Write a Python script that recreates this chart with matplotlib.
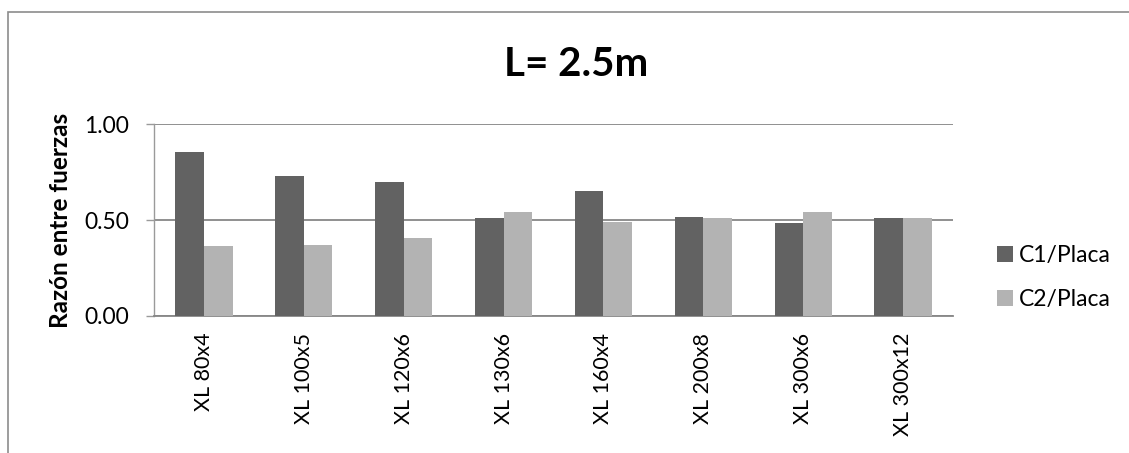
import matplotlib
matplotlib.use("Agg")
import matplotlib.pyplot as plt
from matplotlib.patches import Rectangle
import numpy as np

categories = ["XL 80x4", "XL 100x5", "XL 120x6", "XL 130x6", "XL 160x4",
              "XL 200x8", "XL 300x6", "XL 300x12"]
c1_placa = [0.853, 0.728, 0.696, 0.509, 0.653, 0.514, 0.486, 0.509]
c2_placa = [0.365, 0.370, 0.405, 0.543, 0.488, 0.510, 0.542, 0.510]
series_names = ["C1/Placa", "C2/Placa"]
title = "L= 2.5m"
ylabel = "Razón entre fuerzas"

plt.rcParams['font.family'] = ['Lato', 'DejaVu Sans']

W, H = 1129, 453
fig = plt.figure(figsize=(W / 100, H / 100), dpi=100)

# outer chart border
fig.patches.append(Rectangle((8 / W, -0.05), 1.2, 1 - 12 / H + 0.05, transform=fig.transFigure,
                             fill=False, edgecolor="#8c8c8c", linewidth=1.2))

ax = fig.add_axes([154 / W, 1 - 316 / H, (953 - 154) / W, (316 - 124) / H])

x = np.arange(len(categories))
bw = 0.286
dark = "#626262"
light = "#b3b3b3"
ax.bar(x - bw / 2, c1_placa, width=bw, color=dark, label=series_names[0], zorder=3)
ax.bar(x + bw / 2, c2_placa, width=bw, color=light, label=series_names[1], zorder=3)

ax.set_xlim(-0.5, len(categories) - 0.5)
ax.set_ylim(0, 1.0)
ax.set_yticks([0.0, 0.5, 1.0])
ax.set_yticklabels([f"{v:.2f}" for v in [0.0, 0.5, 1.0]], fontsize=16.5)
ax.yaxis.grid(True, color="#878787", linewidth=1.3, zorder=0)
ax.set_axisbelow(True)
for s in ["top", "right"]:
    ax.spines[s].set_visible(False)
ax.spines["left"].set_color("#9a9a9a")
ax.spines["left"].set_linewidth(1.0)
ax.spines["bottom"].set_color("#878787")
ax.spines["bottom"].set_linewidth(1.3)
ax.tick_params(axis="y", direction="out", length=6, color="#9a9a9a", width=1.0, pad=12)
ax.tick_params(axis="x", length=0, pad=12)
ax.set_xticks(x)
ax.set_xticklabels(categories, rotation=90, fontsize=15.5, va="top", ha="center")

fig.text(60 / W, 1 - 220 / H, ylabel, fontsize=17.5, fontweight="bold",
         rotation=90, ha="center", va="center")

fig.text(576 / W, 1 - 75.7 / H, title, fontsize=29, fontweight="bold",
         ha="center", va="baseline")

ax.legend(loc="upper left", bbox_to_anchor=(997 / W, 1 - 245 / H), bbox_transform=fig.transFigure,
          frameon=False, fontsize=16.5, handlelength=0.7, handleheight=0.7,
          handletextpad=0.25, labelspacing=1.0, borderaxespad=0, borderpad=0)

fig.savefig("out.png", dpi=100)
